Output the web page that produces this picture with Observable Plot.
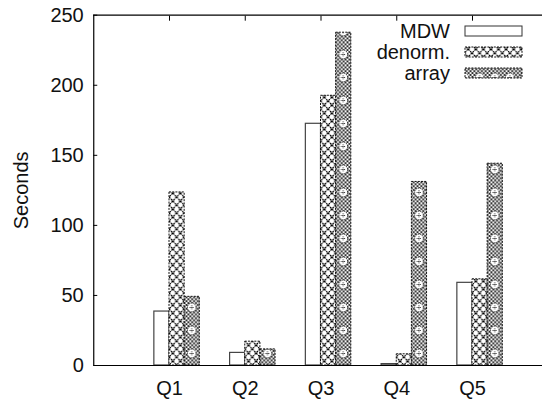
<!DOCTYPE html>
<html><head><meta charset="utf-8">
<script src="https://cdn.jsdelivr.net/npm/d3@7"></script>
<script src="https://cdn.jsdelivr.net/npm/@observablehq/plot@0.6"></script>
<style>
html,body{margin:0;padding:0;background:#fff;overflow:hidden}
#chart{position:relative;width:542px;height:401px}
</style></head><body><div id="chart"></div>
<script>
const categories = ["Q1", "Q2", "Q3", "Q4", "Q5"];
const seriesNames = ["MDW", "denorm.", "array"];
const mdwValues = [38.5, 9, 172.5, 1, 59];
const denormValues = [123.5, 17, 192.5, 8, 61.5];
const arrayValues = [49, 11.5, 237.5, 131, 144];
const yTicks = [0, 50, 100, 150, 200, 250];
const yLabel = "Seconds";

const seriesValues = [mdwValues, denormValues, arrayValues];
const rows = [];
seriesValues.forEach((vals, j) => {
  vals.forEach((v, i) => {
    const pos = i + 1;
    rows.push({series: seriesNames[j], cat: categories[i], x1: pos - 0.2 + j * 0.2, x2: pos + j * 0.2, value: v});
  });
});
const pos = categories.map((c, i) => i + 1);
const font = "'Liberation Sans', Arial, Helvetica, sans-serif";
const fs = 20;

const chart = Plot.plot({
  width: 542, height: 401,
  marginLeft: 93.25, marginRight: -5.75, marginTop: 14.7, marginBottom: 36,
  style: {fontFamily: font, fontSize: fs + "px", color: "#111", background: "#fff", overflow: "hidden"},
  x: {domain: [0, 6]},
  y: {domain: [0, 250]},
  marks: [
    Plot.rect(rows.filter(r => r.series === "MDW"), {x1: "x1", x2: "x2", y1: () => 0, y2: "value", fill: "#fff", stroke: "#444", strokeWidth: 1.2}),
    Plot.rect(rows.filter(r => r.series === "denorm."), {x1: "x1", x2: "x2", y1: () => 0, y2: "value", fill: "url(#pat-denorm)", stroke: "#111", strokeWidth: 1, strokeDasharray: "2,1.2"}),
    Plot.rect(rows.filter(r => r.series === "array"), {x1: "x1", x2: "x2", y1: () => 0, y2: "value", fill: "url(#pat-array)", stroke: "#111", strokeWidth: 1, strokeDasharray: "2,1.2"}),
    Plot.ruleX([0], {stroke: "#000", strokeWidth: 1.2}),
    Plot.ruleY([0, 250], {stroke: "#000", strokeWidth: 1.2}),
    Plot.axisY({ticks: yTicks, tickSize: 0, tickPadding: 10, label: null}),
    Plot.axisY({ticks: yTicks, tickSize: -4, tickFormat: () => "", label: null, stroke: "#000"}),
    Plot.axisX({ticks: pos, tickSize: 0, tickPadding: 15, tickFormat: i => categories[i - 1], label: null}),
    Plot.axisX({anchor: "top", ticks: pos, tickSize: -5, tickFormat: () => "", label: null, stroke: "#000"}),
    Plot.text([yLabel], {frameAnchor: "left", dx: -72, rotate: -90, text: d => d, textAnchor: "middle", lineAnchor: "middle", fontSize: fs, fill: "#111"})
  ]
});
document.getElementById("chart").appendChild(chart);

// patterns aligned to the x scale
const svg = d3.select(chart);
const sx = chart.scale("x"), sy = chart.scale("y");
const x0 = sx.apply(0), bw = sx.apply(0.2) - x0, yb = sy.apply(0);
const defs = svg.insert("defs", ":first-child");

const dw = bw / 2, dh = 8;
const pd = defs.append("pattern").attr("id", "pat-denorm").attr("patternUnits", "userSpaceOnUse")
  .attr("x", x0).attr("y", yb).attr("width", dw).attr("height", dh);
pd.append("rect").attr("width", dw).attr("height", dh).attr("fill", "#fff");
pd.append("path").attr("d", `M0,0L${dw},${dh}M${dw},0L0,${dh}`).attr("stroke", "#000").attr("stroke-width", 1.2).attr("stroke-dasharray", "2,0.8").attr("fill", "none");

const hw = bw / 4;
const ph = defs.append("pattern").attr("id", "pat-hatch").attr("patternUnits", "userSpaceOnUse")
  .attr("x", x0).attr("y", yb).attr("width", hw).attr("height", hw);
ph.append("rect").attr("width", hw).attr("height", hw).attr("fill", "#fff");
ph.append("path").attr("d", `M0,0L${hw},${hw}M${hw},0L0,${hw}`).attr("stroke", "#111").attr("stroke-width", 0.85).attr("fill", "none");

const pa = defs.append("pattern").attr("id", "pat-array").attr("patternUnits", "userSpaceOnUse")
  .attr("x", x0).attr("y", yb).attr("width", bw).attr("height", 23);
pa.append("rect").attr("width", bw).attr("height", 23).attr("fill", "url(#pat-hatch)");
pa.append("circle").attr("cx", bw / 2).attr("cy", 11.5).attr("r", 4.4).attr("fill", "#fff").attr("stroke", "#111").attr("stroke-width", 0.9).attr("stroke-dasharray", "1.4,0.7");
pa.append("path").attr("d", `M${bw / 2 - 2.3},11.5H${bw / 2 + 2.3}M${bw / 2},9.2V13.8`).attr("stroke", "#111").attr("stroke-width", 0.8).attr("stroke-dasharray", "1,0.6");

// legend (key) inside the top-right of the frame
const fills = ["#fff", "url(#pat-denorm)", "url(#pat-array)"];
const strokes = ["#333", "#111", "#111"];
const dashes = [null, "2,1.2", "2,1.2"];
const lg = svg.append("g").attr("font-family", font).attr("font-size", fs).attr("fill", "#111");
seriesNames.forEach((name, k) => {
  const cy = 31 + k * 21;
  lg.append("text").attr("x", 450).attr("y", cy).attr("dy", "0.35em").attr("text-anchor", "end").text(name);
  lg.append("rect").attr("x", 465).attr("y", cy - 5).attr("width", 57).attr("height", 10)
    .attr("fill", fills[k]).attr("stroke", strokes[k]).attr("stroke-width", 1).attr("stroke-dasharray", dashes[k]);
});
</script></body></html>
